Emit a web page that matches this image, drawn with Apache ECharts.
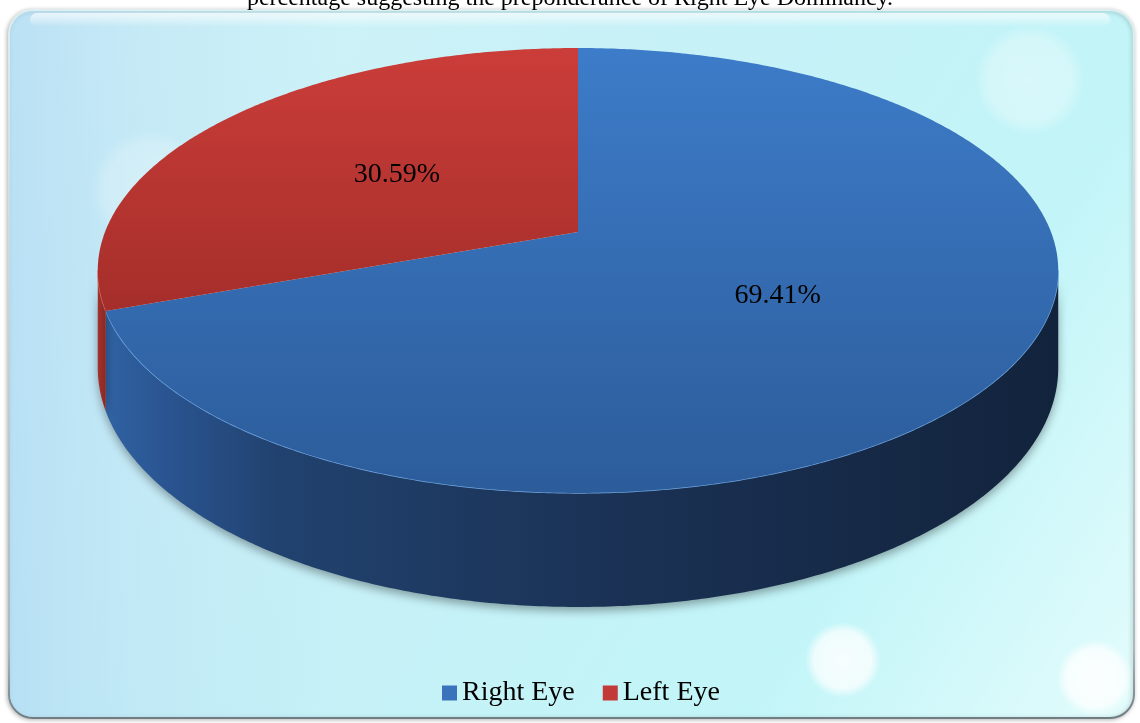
<!DOCTYPE html>
<html><head><meta charset="utf-8">
<script src="https://cdn.jsdelivr.net/npm/echarts@6/dist/echarts.min.js"></script>
<style>html,body{margin:0;padding:0;background:#fff}#c{width:1140px;height:723px}</style>
</head><body><div id="c"></div>
<script>
// ---- data ----
const categories = ['Right Eye', 'Left Eye'];
const values = [69.41, 30.59];
const titleText = 'percentage suggesting the preponderance of Right Eye Dominancy.';

// ---- styles ----
const topColors = [['#3d7cc9', '#2c5c9a'], ['#cb3d39', '#a52e2a']];
const sideStops = [
  [[0, '#3062a2'], [0.06, '#2a5592'], [0.18, '#21426f'], [0.5, '#1b3357'], [1, '#12233c']],
  [[0, '#a3322d'], [1, '#8a2824']]
];
const legendColors = ['#3a72bc', '#c23a38'];
const rimColors = ['rgba(120,175,235,0.9)', 'rgba(230,120,110,0.7)'];
const serif = 'Liberation Serif';

// ---- 3D pie geometry (screen layout) ----
const G = { cx: 578, cy: 232, a: 473, b: 215.8, k: 0.173, h: 94.3, labelR: 0.49 };
function proj(deg, f, h) {
  const r = deg * Math.PI / 180;
  const u = f * Math.sin(r), v = -f * Math.cos(r);
  const d = 1 - G.k * v;
  return [G.cx + G.a * u / d, G.cy + (G.b * v + h) / d];
}
const total = values.reduce((s, v) => s + v, 0);
function startOf(i) { let s = 0; for (let j = 0; j < i; j++) s += values[j]; return 360 * s / total; }
function arc(a0, a1, h) {
  const pts = []; const n = Math.max(2, Math.ceil(Math.abs(a1 - a0) / 0.5));
  for (let j = 0; j <= n; j++) pts.push(proj(a0 + (a1 - a0) * j / n, 1, h));
  return pts;
}
const visL = Math.acos(-G.k) * 180 / Math.PI, visR = 360 - visL;

function renderSide(i, api) {
  const s = startOf(i), e = s + 360 * api.value(0) / total;
  const a0 = Math.max(s, visL), a1 = Math.min(e, visR);
  if (a1 <= a0) return { type: 'group', children: [] };
  const pts = arc(a0, a1, 0).concat(arc(a1, a0, G.h));
  return {
    type: 'group', children: [
      { type: 'polygon', shape: { points: pts },
        style: { fill: { type: 'linear', x: 0, y: 0, x2: 1, y2: 0,
          colorStops: sideStops[i].map(c => ({ offset: c[0], color: c[1] })) },
          shadowBlur: 10, shadowColor: 'rgba(0,0,0,0.35)', shadowOffsetY: 4 } },
      { type: 'polyline', shape: { points: arc(a0, a1, 0) },
        style: { stroke: rimColors[i], lineWidth: 1.4, fill: null } }
    ]
  };
}
function renderTop(i, api) {
  const v = api.value(0);
  const s = startOf(i), e = s + 360 * v / total;
  const pts = [proj(0, 0, 0)].concat(arc(s, e, 0));
  const lp = proj((s + e) / 2, G.labelR, 0);
  return {
    type: 'group', children: [
      { type: 'polygon', shape: { points: pts },
        style: { fill: { type: 'linear', x: 0, y: 0, x2: 0, y2: 1,
          colorStops: [{ offset: 0, color: topColors[i][0] }, { offset: 1, color: topColors[i][1] }] } } },
      { type: 'text', x: lp[0], y: lp[1],
        style: { text: (v / total * 100).toFixed(2) + '%', fill: '#000', align: 'center', verticalAlign: 'middle',
          fontSize: 28, fontFamily: serif } }
    ]
  };
}

const series = [];
categories.forEach((name, i) => {
  series.push({ type: 'custom', name, coordinateSystem: 'none', z: 2, silent: true,
    itemStyle: { color: legendColors[i] }, data: [values[i]], renderItem: (p, api) => renderSide(i, api) });
});
categories.forEach((name, i) => {
  series.push({ type: 'custom', name, coordinateSystem: 'none', z: 3, silent: true,
    itemStyle: { color: legendColors[i] }, data: [values[i]], renderItem: (p, api) => renderTop(i, api) });
});

function radial(cx, cy, r, a) {
  return { type: 'circle', shape: { cx, cy, r }, silent: true, z: -7,
    style: { fill: { type: 'radial', x: 0.5, y: 0.5, r: 0.5, colorStops: [
      { offset: 0, color: 'rgba(255,255,255,' + a + ')' }, { offset: 0.75, color: 'rgba(255,255,255,' + (a * 0.85) + ')' },
      { offset: 1, color: 'rgba(255,255,255,0)' }] } } };
}
const frame = { x: 9, y: 10, width: 1125, height: 708, r: 24 };

const chart = echarts.init(document.getElementById('c'));
chart.setOption({
  animation: false,
  graphic: [
    { type: 'rect', shape: frame, z: -10, silent: true,
      style: { fill: { type: 'linear', x: 0, y: 0, x2: 1, y2: 1, colorStops: [
        { offset: 0, color: '#d3f3f8' }, { offset: 0.45, color: '#c6f1f7' }, { offset: 0.75, color: '#c2f5f8' }, { offset: 1, color: '#e4fcfc' }] },
        stroke: { type: 'linear', x: 0, y: 0, x2: 0, y2: 1, colorStops: [
          { offset: 0, color: '#dfeef0' }, { offset: 0.9, color: '#a8babe' }, { offset: 1, color: '#6f7d82' }] },
        lineWidth: 2, shadowBlur: 4, shadowColor: 'rgba(0,0,0,0.25)', shadowOffsetX: -1, shadowOffsetY: 1 } },
    { type: 'rect', shape: { x: 10, y: 11, width: 1123, height: 706, r: 23 }, z: -9, silent: true,
      style: { fill: { type: 'linear', x: 0, y: 0, x2: 1, y2: 0, colorStops: [
        { offset: 0, color: 'rgba(170,212,242,0.6)' }, { offset: 0.12, color: 'rgba(175,215,242,0.3)' },
        { offset: 0.3, color: 'rgba(175,215,242,0)' }, { offset: 1, color: 'rgba(175,215,242,0)' }] } } },
    { type: 'rect', shape: { x: 30, y: 13, width: 1080, height: 14, r: 7 }, z: -8, silent: true,
      style: { fill: { type: 'linear', x: 0, y: 0, x2: 0, y2: 1, colorStops: [
        { offset: 0, color: 'rgba(255,255,255,0.7)' }, { offset: 1, color: 'rgba(255,255,255,0)' }] } } },
    radial(843, 660, 38, 0.85),
    radial(1095, 678, 38, 0.9),
    radial(1030, 80, 55, 0.35),
    radial(150, 190, 60, 0.25),
    { type: 'text', z: 10, silent: true,
      style: { text: titleText, x: 570, y: 11, align: 'center', verticalAlign: 'bottom',
        fontSize: 24, fontFamily: serif, fill: '#000' } }
  ],
  legend: {
    data: categories, left: 437, top: 674, icon: 'rect', itemWidth: 15, itemHeight: 15, itemGap: 28,
    selectedMode: false,
    textStyle: { fontFamily: serif, fontSize: 28, color: '#000' }
  },
  series
});
</script></body></html>
